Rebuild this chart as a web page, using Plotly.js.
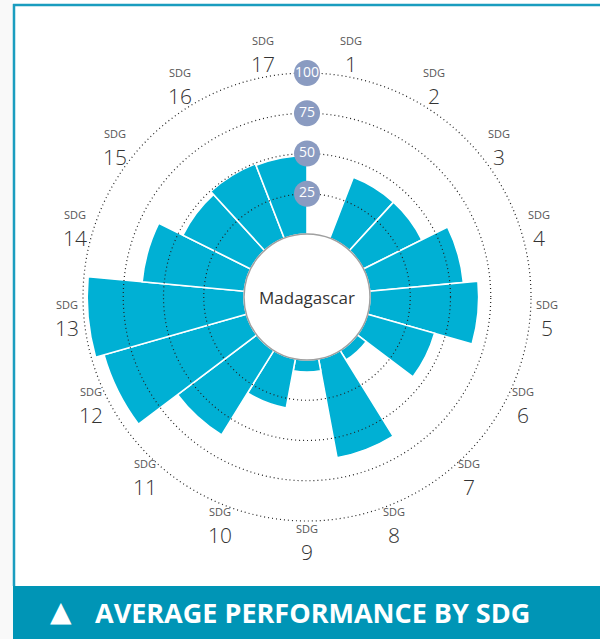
<!DOCTYPE html>
<html><head><meta charset="utf-8">
<script src="https://cdn.plot.ly/plotly-3.0.1.min.js"></script>
<style>html,body{margin:0;padding:0;background:#fff}#chart{width:600px;height:639px}</style>
</head><body><div id="chart"></div>
<script>
// ---- data ----
const categories = ['SDG 1','SDG 2','SDG 3','SDG 4','SDG 5','SDG 6','SDG 7','SDG 8','SDG 9','SDG 10','SDG 11','SDG 12','SDG 13','SDG 14','SDG 15','SDG 16','SDG 17'];
const sdgNumbers = ['1','2','3','4','5','6','7','8','9','10','11','12','13','14','15','16','17'];
const scores = [0, 40.6, 40.6, 58.4, 67.5, 43.3, 6.9, 62.5, 7.5, 31.0, 61.6, 92.0, 97.4, 63.7, 47.0, 49.6, 48.6];
const gridValues = [25, 50, 75, 100];
const gridLabels = ['25', '50', '75', '100'];
const countryName = 'Madagascar';
const bannerTitle = 'AVERAGE PERFORMANCE BY SDG';

// ---- layout geometry ----
const W = 600, H = 639, CX = 307, CY = 297, HOLE = 63, R100 = 224, RMAX = 101.5;
const R = HOLE + (R100 - HOLE) * RMAX / 100;
const n = categories.length, step = 360 / n;
const thetas = categories.map((_, i) => (i + 0.5) * step);
const domX = [(CX - R) / W, (CX + R) / W];
const domY = [(H - CY - R) / H, (H - CY + R) / H];
const FONT = 'Open Sans, Noto Sans, sans-serif';

const px = x => x / W, py = y => 1 - y / H;

const traces = [
  {
    type: 'barpolar', subplot: 'polar',
    r: scores, theta: thetas, width: categories.map(() => step),
    text: categories, hoverinfo: 'text+r',
    marker: {color: '#00b0d4', line: {color: '#ffffff', width: 1.6}}
  },
  {
    type: 'scatterpolar', subplot: 'polar2',
    r: gridValues, theta: gridValues.map(() => 0),
    mode: 'markers+text', text: gridLabels,
    textposition: 'middle center',
    textfont: {color: '#ffffff', size: 14, family: FONT},
    marker: {size: 26, color: '#8a9bc1'},
    cliponaxis: false, hoverinfo: 'skip'
  }
];

const annotations = [];
const LRX = 241, LRY = 246;
categories.forEach((c, i) => {
  const a = thetas[i] * Math.PI / 180;
  const x = CX + LRX * Math.sin(a);
  const ySplit = CY - LRY * Math.cos(a) - 6.5;
  annotations.push({x: px(x), y: py(ySplit), xref: 'paper', yref: 'paper', text: 'SDG', showarrow: false, borderpad: 0,
    xanchor: 'center', yanchor: 'bottom', font: {size: 11, color: '#555555', family: FONT}});
  annotations.push({x: px(x), y: py(ySplit), xref: 'paper', yref: 'paper', text: sdgNumbers[i], showarrow: false, borderpad: 0,
    xanchor: 'center', yanchor: 'top', font: {size: 21, color: '#333333', family: FONT, weight: 300}});
});
annotations.push({x: px(CX), y: py(CY), xref: 'paper', yref: 'paper', text: countryName, showarrow: false,
  xanchor: 'center', yanchor: 'middle', font: {size: 17, color: '#333333', family: FONT}});
annotations.push({x: px(61.5), y: py(611), xref: 'paper', yref: 'paper', text: '▲', showarrow: false,
  xanchor: 'center', yanchor: 'middle', font: {size: 28, color: '#ffffff', family: 'DejaVu Sans, sans-serif'}});
annotations.push({x: px(93), y: py(612), xref: 'paper', yref: 'paper', text: '<b>' + bannerTitle + '</b>', showarrow: false,
  xanchor: 'left', yanchor: 'middle', font: {size: 27, color: '#ffffff', family: FONT}});

const shapes = [
  {type: 'rect', xref: 'paper', yref: 'paper', x0: 0, x1: px(13), y0: 0, y1: 1, fillcolor: '#f9f9f9', line: {width: 0}, layer: 'below'},
  {type: 'line', xref: 'paper', yref: 'paper', x0: px(13), x1: 1, y0: py(5), y1: py(5), line: {color: '#1a9dbf', width: 2.5}},
  {type: 'line', xref: 'paper', yref: 'paper', x0: px(14), x1: px(14), y0: py(4), y1: py(586), line: {color: '#1a9dbf', width: 2.5}},
  {type: 'rect', xref: 'paper', yref: 'paper', x0: px(13), x1: 1, y0: 0, y1: py(586), fillcolor: '#0095b6', line: {width: 0}},
  {type: 'circle', xref: 'paper', yref: 'paper', x0: px(CX - HOLE), x1: px(CX + HOLE), y0: py(CY + HOLE), y1: py(CY - HOLE),
    fillcolor: '#ffffff', line: {color: '#a0a0a0', width: 1.5}, layer: 'above'}
];

const hiddenAngular = {rotation: 90, direction: 'clockwise', showgrid: false, showline: false, showticklabels: false, ticks: ''};

const layout = {
  width: W, height: H, margin: {l: 0, r: 0, t: 0, b: 0},
  paper_bgcolor: '#ffffff', showlegend: false,
  polar: {
    domain: {x: domX, y: domY}, hole: HOLE / R, bgcolor: 'rgba(0,0,0,0)',
    radialaxis: {range: [0, RMAX], showgrid: false, showline: false, showticklabels: false, ticks: ''},
    angularaxis: Object.assign({}, hiddenAngular)
  },
  polar2: {
    domain: {x: domX, y: domY}, hole: HOLE / R, bgcolor: 'rgba(0,0,0,0)',
    radialaxis: {range: [0, RMAX], tickvals: gridValues, showgrid: true, gridcolor: '#222222', gridwidth: 1.2,
      griddash: '1px,3px', showline: false, showticklabels: false, ticks: ''},
    angularaxis: Object.assign({}, hiddenAngular)
  },
  shapes: shapes,
  annotations: annotations
};

Plotly.newPlot('chart', traces, layout, {displayModeBar: false, staticPlot: true});
</script>
</body></html>
